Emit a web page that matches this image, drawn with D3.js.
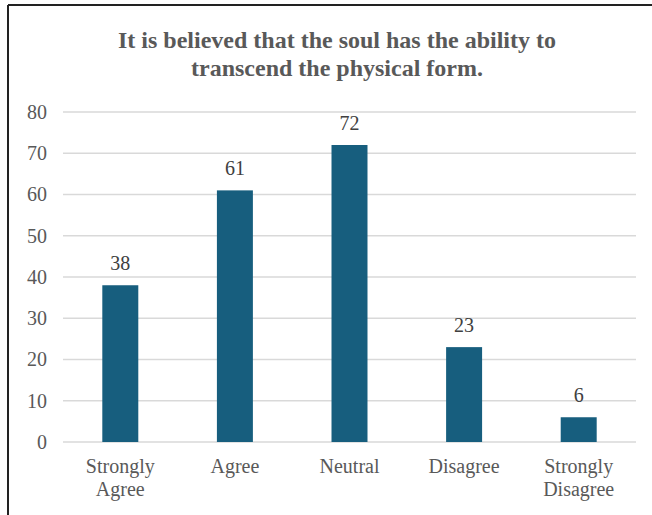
<!DOCTYPE html>
<html>
<head>
<meta charset="utf-8">
<script src="https://cdn.jsdelivr.net/npm/d3@7"></script>
<style>
  html, body { margin: 0; padding: 0; background: #fff; }
  svg { display: block; }
</style>
</head>
<body>
<script>
// Survey responses
const categories = ["Strongly Agree", "Agree", "Neutral", "Disagree", "Strongly Disagree"];
const categoryLines = [["Strongly", "Agree"], ["Agree"], ["Neutral"], ["Disagree"], ["Strongly", "Disagree"]];
const counts = [38, 61, 72, 23, 6];
const yTicks = [0, 10, 20, 30, 40, 50, 60, 70, 80];
const titleLines = ["It is believed that the soul has the ability to", "transcend the physical form."];

const W = 652, H = 515;
const font = "'Liberation Serif', 'Times New Roman', serif";
const textColor = "#595959";

const svg = d3.select("body").append("svg").attr("width", W).attr("height", H);

// Frame (left and top edges visible)
svg.append("rect").attr("width", W).attr("height", H).attr("fill", "#fff");
svg.append("line").attr("x1", 8).attr("x2", 8).attr("y1", 5).attr("y2", H).attr("stroke", "#222").attr("stroke-width", 2);
svg.append("line").attr("x1", 8).attr("x2", W).attr("y1", 5).attr("y2", 5).attr("stroke", "#222").attr("stroke-width", 2);

const plot = { left: 63, right: 636, top: 112, bottom: 442 };

const x = d3.scaleBand().domain(categories).range([plot.left, plot.right]).paddingInner(0.686).paddingOuter(0.343);
const y = d3.scaleLinear().domain([0, 80]).range([plot.bottom, plot.top]);

// Title
svg.append("text")
  .attr("x", 337).attr("y", 48)
  .attr("text-anchor", "middle")
  .attr("font-family", font).attr("font-weight", "bold").attr("font-size", 24)
  .attr("fill", textColor)
  .selectAll("tspan").data(titleLines).join("tspan")
  .attr("x", 337).attr("dy", (d, i) => i === 0 ? 0 : 28)
  .text(d => d);

// Gridlines
svg.append("g").selectAll("line").data(yTicks).join("line")
  .attr("x1", plot.left).attr("x2", plot.right)
  .attr("y1", d => y(d)).attr("y2", d => y(d))
  .attr("stroke", "#d9d9d9").attr("stroke-width", 1.3);

// Y axis labels
const yAxis = d3.axisLeft(y).tickValues(yTicks).tickSize(0).tickPadding(16);
const yg = svg.append("g").attr("transform", `translate(${plot.left},0)`).call(yAxis);
yg.select(".domain").remove();
yg.selectAll("text").attr("font-family", font).attr("font-size", 20).attr("fill", textColor);

// Bars
svg.append("g").selectAll("rect").data(counts).join("rect")
  .attr("x", (d, i) => x(categories[i]))
  .attr("width", x.bandwidth())
  .attr("y", d => y(d))
  .attr("height", d => y(0) - y(d))
  .attr("fill", "#175e7e");

// Value labels
svg.append("g").selectAll("text").data(counts).join("text")
  .attr("x", (d, i) => x(categories[i]) + x.bandwidth() / 2)
  .attr("y", d => y(d) - 15)
  .attr("text-anchor", "middle")
  .attr("font-family", font).attr("font-size", 20).attr("fill", "#404040")
  .text(d => d);

// Category labels
const xg = svg.append("g");
categories.forEach((c, i) => {
  xg.append("text")
    .attr("x", x(c) + x.bandwidth() / 2)
    .attr("y", plot.bottom + 31)
    .attr("text-anchor", "middle")
    .attr("font-family", font).attr("font-size", 20).attr("fill", textColor)
    .selectAll("tspan").data(categoryLines[i]).join("tspan")
    .attr("x", x(c) + x.bandwidth() / 2)
    .attr("dy", (d, j) => j === 0 ? 0 : 23)
    .text(d => d);
});
</script>
</body>
</html>
